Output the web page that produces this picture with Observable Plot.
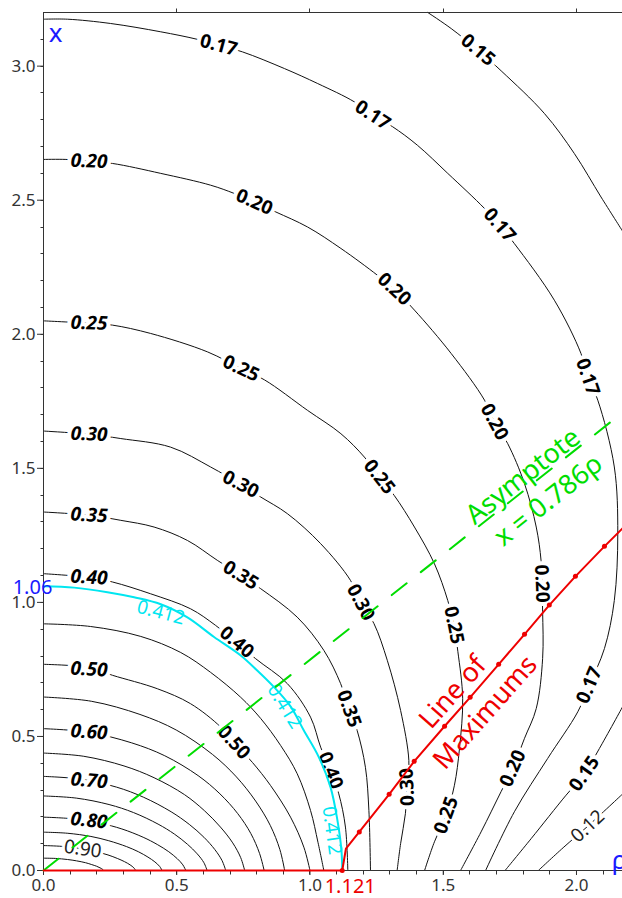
<!DOCTYPE html>
<html>
<head>
<meta charset="utf-8">
<script src="https://cdn.jsdelivr.net/npm/d3@7"></script>
<script src="https://cdn.jsdelivr.net/npm/@observablehq/plot@0.6"></script>
<style>
  html, body { margin: 0; padding: 0; background: #fff; overflow: hidden; }
</style>
</head>
<body>
<div id="chart"></div>
<script>
// Extent of the (ρ, x) plane shown
const rhoMax = 2.1727;
const xMax = 3.2;
const rhoTicks = [0, 0.5, 1.0, 1.5, 2.0];
const xTicks = [0, 0.5, 1.0, 1.5, 2.0, 2.5, 3.0];

// Level curves, each as [ρ, x] points from the x axis round to the ρ axis
const contour095 = [[0,0.046],[0.045,0.045],[0.09,0.041],[0.124,0.036],[0.158,0.029],[0.181,0.022],[0.199,0.016],[0.212,0.010],[0.221,0.005],[0.226,0]];
const contour090 = [[0,0.093],[0.069,0.09],[0.138,0.082],[0.19,0.072],[0.242,0.058],[0.277,0.045],[0.304,0.033],[0.325,0.021],[0.339,0.01],[0.346,0]];
const contour085 = [[0,0.143],[0.089,0.139],[0.178,0.127],[0.245,0.111],[0.312,0.089],[0.356,0.07],[0.392,0.05],[0.418,0.032],[0.436,0.015],[0.445,0]];
const contour080 = [[0,0.199],[0.107,0.193],[0.214,0.176],[0.294,0.155],[0.374,0.124],[0.427,0.097],[0.47,0.07],[0.502,0.044],[0.523,0.021],[0.534,0]];
const contour075 = [[0,0.278],[0.123,0.27],[0.246,0.246],[0.338,0.216],[0.43,0.173],[0.491,0.136],[0.54,0.098],[0.577,0.062],[0.602,0.029],[0.614,0]];
const contour070 = [[0,0.351],[0.137,0.341],[0.274,0.311],[0.376,0.273],[0.479,0.219],[0.547,0.172],[0.602,0.124],[0.643,0.078],[0.67,0.037],[0.684,0]];
const contour065 = [[0,0.438],[0.151,0.426],[0.302,0.39],[0.415,0.346],[0.529,0.283],[0.604,0.223],[0.664,0.162],[0.71,0.103],[0.74,0.048],[0.755,0]];
const contour060 = [[0,0.529],[0.166,0.516],[0.331,0.476],[0.455,0.428],[0.58,0.354],[0.662,0.286],[0.729,0.212],[0.778,0.138],[0.811,0.063],[0.828,0]];
const contour055 = [[0,0.647],[0.181,0.631],[0.362,0.582],[0.498,0.524],[0.634,0.433],[0.724,0.349],[0.796,0.259],[0.851,0.168],[0.887,0.078],[0.905,0]];
const contour050 = [[0,0.769],[0.17,0.757],[0.259,0.728],[0.427,0.678],[0.552,0.622],[0.665,0.535],[0.714,0.478],[0.784,0.403],[0.852,0.317],[0.927,0.199],[0.977,0.087],[1.0,0]];
const contour045 = [[0,0.92],[0.177,0.91],[0.365,0.873],[0.515,0.813],[0.627,0.739],[0.74,0.646],[0.815,0.567],[0.89,0.466],[0.952,0.361],[1.002,0.224],[1.03,0.105],[1.052,0]];
const contour040 = [[0,1.107],[0.171,1.093],[0.259,1.076],[0.402,1.032],[0.552,0.976],[0.646,0.914],[0.725,0.851],[0.796,0.79],[0.915,0.697],[1.002,0.572],[1.04,0.46],[1.077,0.373],[1.108,0.286],[1.133,0.162],[1.142,0]];
const contour035 = [[0,1.337],[0.171,1.325],[0.29,1.306],[0.415,1.281],[0.54,1.231],[0.652,1.157],[0.74,1.101],[0.815,1.051],[0.952,0.945],[1.052,0.821],[1.115,0.697],[1.146,0.603],[1.177,0.522],[1.208,0.385],[1.221,0.224],[1.227,0]];
const contour030 = [[0,1.639],[0.171,1.627],[0.29,1.611],[0.477,1.579],[0.627,1.505],[0.74,1.44],[0.815,1.393],[0.915,1.331],[1.04,1.219],[1.152,1.082],[1.19,1.0],[1.24,0.921],[1.29,0.784],[1.34,0.597],[1.371,0.41],[1.365,0.311],[1.358,0.212],[1.34,0.1],[1.327,0]];
const contour025 = [[0,2.05],[0.171,2.041],[0.259,2.034],[0.402,2.003],[0.616,1.934],[0.741,1.872],[0.829,1.83],[0.991,1.716],[1.116,1.629],[1.204,1.542],[1.26,1.468],[1.316,1.399],[1.392,1.281],[1.467,1.144],[1.517,1.007],[1.54,0.915],[1.555,0.816],[1.573,0.642],[1.561,0.455],[1.542,0.318],[1.511,0.206],[1.467,0.107],[1.43,0]];
const contour020 = [[0,2.652],[0.084,2.652],[0.171,2.645],[0.259,2.637],[0.44,2.6],[0.627,2.556],[0.716,2.525],[0.791,2.493],[0.872,2.456],[0.991,2.4],[1.116,2.32],[1.253,2.22],[1.316,2.168],[1.392,2.09],[1.53,1.928],[1.655,1.754],[1.692,1.673],[1.742,1.592],[1.805,1.443],[1.849,1.281],[1.867,1.157],[1.87,1.07],[1.873,0.965],[1.873,0.791],[1.849,0.604],[1.805,0.493],[1.761,0.381],[1.717,0.294],[1.642,0.144],[1.565,0]];
const contour017 = [[0,3.175],[0.09,3.175],[0.252,3.159],[0.44,3.128],[0.577,3.1],[0.657,3.078],[0.747,3.053],[0.904,2.991],[1.029,2.935],[1.166,2.867],[1.235,2.817],[1.31,2.774],[1.403,2.705],[1.517,2.6],[1.655,2.469],[1.711,2.407],[1.767,2.338],[1.917,2.127],[2.017,1.928],[2.042,1.841],[2.08,1.754],[2.142,1.505],[2.155,1.256],[2.142,1.007],[2.105,0.828],[2.048,0.691],[2.005,0.592],[1.892,0.418],[1.767,0.219],[1.659,0]];
const contour015Upper = [[1.442,3.2],[1.53,3.14],[1.63,3.06],[1.72,2.98],[1.88,2.823],[1.992,2.674],[2.092,2.512],[2.1727,2.385]];
const contour015Lower = [[2.1727,0.61],[2.086,0.455],[2.03,0.361],[1.961,0.281],[1.83,0.119],[1.732,0]];
const contour012 = [[1.857,0],[1.95,0.085],[2.042,0.165],[2.1727,0.285]];

// The separating level 0.412, which meets the x axis at 1.06 and the ρ axis at 1.121
const criticalLevel = 0.412;
const criticalOnX = 1.06;
const criticalOnRho = 1.121;
const contour0412 = [[0,criticalOnX],[0.115,1.055],[0.24,1.038],[0.34,1.019],[0.44,0.993],[0.54,0.944],[0.64,0.871],[0.74,0.802],[0.802,0.746],[0.865,0.684],[0.927,0.612],[0.977,0.522],[1.033,0.423],[1.077,0.311],[1.103,0.187],[1.118,0.075],[criticalOnRho,0]];

// Line of maximums: along the ρ axis up to 1.121, then off into the plane
const maximaLine = [[0,0],[criticalOnRho,0],[1.135,0.082],[1.185,0.144],[1.297,0.284],[1.391,0.407],[1.505,0.538],[1.601,0.646],[1.708,0.769],[1.805,0.881],[1.898,0.99],[1.996,1.097],[2.105,1.209],[2.1727,1.276]];
const maximaDots = [[criticalOnRho,0],[1.185,0.144],[1.297,0.284],[1.391,0.407],[1.505,0.538],[1.601,0.646],[1.708,0.769],[1.805,0.881],[1.898,0.99],[1.996,1.097],[2.105,1.209]];

// Asymptote x = 0.786 ρ
const asymptoteSlope = 0.786;

const blackContours = [
  [0.95, contour095], [0.90, contour090], [0.85, contour085], [0.80, contour080],
  [0.75, contour075], [0.70, contour070], [0.65, contour065], [0.60, contour060],
  [0.55, contour055], [0.50, contour050], [0.45, contour045], [0.40, contour040],
  [0.35, contour035], [0.30, contour030], [0.25, contour025], [0.20, contour020],
  [0.17, contour017], [0.15, contour015Upper], [0.15, contour015Lower], [0.12, contour012]
];

// Contour labels: text, ρ, x, angle
const axisSideLabels = [
  ["0.20",0.171,2.645,2],["0.25",0.171,2.041,2],["0.30",0.171,1.627,2],["0.35",0.171,1.325,3],
  ["0.40",0.171,1.093,3],["0.50",0.171,0.75,3],["0.60",0.171,0.516,4],["0.70",0.171,0.335,5],["0.80",0.171,0.186,6]
];
const curveLabels = [
  ["0.17",0.657,3.078,15],["0.17",1.235,2.817,33],["0.17",1.711,2.407,49],["0.17",2.042,1.841,71],["0.17",2.048,0.691,-67],
  ["0.15",1.63,3.06,40],["0.15",2.03,0.361,-55],
  ["0.20",0.791,2.493,24],["0.20",1.316,2.168,43],["0.20",1.692,1.673,62],["0.20",1.87,1.07,88],["0.20",1.761,0.381,-66],
  ["0.25",0.741,1.872,25],["0.25",1.26,1.468,52],["0.25",1.54,0.915,79],["0.25",1.511,0.206,-70],
  ["0.30",0.74,1.44,28],["0.30",1.19,1.0,62],["0.30",1.365,0.311,-92],
  ["0.35",0.74,1.101,32],["0.35",1.146,0.603,70],
  ["0.40",0.725,0.851,40],["0.40",1.077,0.373,69],
  ["0.50",0.714,0.478,48]
];
const lightLabels = [["0.90",0.147,0.08,8],["0.12",2.042,0.165,-43]];
const criticalLabels = [[0.44,0.962,15],[0.905,0.612,58],[1.082,0.149,82]];

const contourRows = blackContours.flatMap(([level, pts], id) =>
  pts.map(([rho, x]) => ({id, level, rho, x})));
const criticalRows = contour0412.map(([rho, x]) => ({rho, x}));
const maximaRows = maximaLine.map(([rho, x]) => ({rho, x}));
const dotRows = maximaDots.map(([rho, x]) => ({rho, x}));
const asymptoteRows = [0, rhoMax].map(rho => ({rho, x: asymptoteSlope * rho}));

const rhoMinor = d3.range(1, 22).map(i => i / 10);
const xMinor = d3.range(1, 32).map(i => i / 10);

const sans = "'Noto Sans', 'Open Sans', sans-serif";
const red = "#ee0000", cyan = "#00e6f0", green = "#00dd00", blue = "#1a1aff";

// Minor ticks on the two axes and outward ticks on the top border
function borderTicks(index, {x, y}) {
  const g = d3.create("svg:g")
    .attr("stroke", "#333")
    .attr("transform", "translate(0.5,0.5)");
  const left = Math.round(x(0)), bottom = Math.round(y(0)), top = Math.round(y(xMax));
  for (const v of xMinor) {
    const py = Math.round(y(v));
    g.append("line").attr("x1", left - 3).attr("x2", left).attr("y1", py).attr("y2", py);
  }
  for (const v of rhoMinor) {
    const px = Math.round(x(v));
    g.append("line").attr("x1", px).attr("x2", px).attr("y1", bottom).attr("y2", bottom + 4);
  }
  for (const v of rhoTicks) {
    if (v === 0) continue;
    const px = Math.round(x(v));
    g.append("line").attr("x1", px).attr("x2", px).attr("y1", top).attr("y2", top - 4);
  }
  return g.node();
}

const pxPerRho = (622 - 43) / rhoMax;
const pxPerX = (898 - 12 - 28) / xMax;
const asymptoteAngle = -Math.atan(asymptoteSlope * pxPerX / pxPerRho) * 180 / Math.PI;
const maximaAngle = -48.5;

const chart = Plot.plot({
  width: 622,
  height: 898,
  marginTop: 12,
  marginRight: 0,
  marginBottom: 28,
  marginLeft: 43,
  style: {fontFamily: sans, fontSize: "17px", color: "#333", background: "#fff"},
  x: {domain: [0, rhoMax], ticks: rhoTicks, tickFormat: d3.format(".1f"), tickSize: 5, tickPadding: 3, label: null},
  y: {domain: [0, xMax], ticks: xTicks, tickFormat: d3.format(".1f"), tickSize: 6, tickPadding: 2, label: null},
  marks: [
    Plot.line(contourRows, {x: "rho", y: "x", z: "id", stroke: "#111", strokeWidth: 1, curve: "catmull-rom"}),
    Plot.text(axisSideLabels, {x: d => d[1], y: d => d[2], text: d => d[0], rotate: d => d[3],
      fontFamily: sans, fontSize: 19, fontWeight: "bold", fontStyle: "italic", fill: "#000", stroke: "#fff", strokeWidth: 8}),
    Plot.text(curveLabels, {x: d => d[1], y: d => d[2], text: d => d[0], rotate: d => d[3],
      fontFamily: sans, fontSize: 19, fontWeight: "bold", fill: "#000", stroke: "#fff", strokeWidth: 8}),
    Plot.text(lightLabels, {x: d => d[1], y: d => d[2], text: d => d[0], rotate: d => d[3],
      fontFamily: sans, fontSize: 19, fill: "#222", stroke: "#fff", strokeWidth: 6}),
    Plot.line(criticalRows, {x: "rho", y: "x", stroke: cyan, strokeWidth: 2, curve: "catmull-rom"}),
    Plot.text(criticalLabels, {x: d => d[0], y: d => d[1], text: () => String(criticalLevel), rotate: d => d[2],
      fontFamily: sans, fontSize: 19, fill: cyan}),
    Plot.ruleX([0], {stroke: "#333"}),
    Plot.ruleY([0], {stroke: "#333"}),
    Plot.ruleY([xMax], {stroke: "#333"}),
    borderTicks,
    Plot.line(asymptoteRows, {x: "rho", y: "x", stroke: green, strokeWidth: 2, strokeDasharray: "19,18"}),
    Plot.text(["Asymptote"], {x: 1.80, y: 1.47, rotate: asymptoteAngle, fontFamily: sans, fontSize: 27, fill: green}),
    Plot.text([`x = ${asymptoteSlope}ρ`], {x: 1.895, y: 1.38, rotate: asymptoteAngle, fontFamily: sans, fontSize: 27, fill: green}),
    Plot.line(maximaRows, {x: "rho", y: "x", stroke: red, strokeWidth: 2}),
    Plot.dot(dotRows, {x: "rho", y: "x", r: 2.5, fill: red}),
    Plot.text(["Line of"], {x: 1.536, y: 0.664, rotate: maximaAngle, fontFamily: sans, fontSize: 27, fill: red}),
    Plot.text(["Maximums"], {x: 1.658, y: 0.589, rotate: maximaAngle, fontFamily: sans, fontSize: 27, fill: red}),
    Plot.text([criticalOnRho.toFixed(3)], {x: criticalOnRho, y: 0, dx: 8, dy: 16, fontFamily: sans, fontSize: 20, fill: red}),
    Plot.text([criticalOnX.toFixed(2)], {x: 0, y: criticalOnX, dx: -11, dy: 1, fontFamily: sans, fontSize: 20, fill: blue}),
    Plot.text(["x"], {frameAnchor: "top-left", textAnchor: "middle", lineAnchor: "middle", dx: 12, dy: 21, fontFamily: sans, fontSize: 26, fill: blue}),
    Plot.text(["ρ"], {frameAnchor: "bottom-right", textAnchor: "middle", lineAnchor: "middle", dx: -3, dy: -10, fontFamily: sans, fontSize: 26, fill: blue})
  ]
});

document.getElementById("chart").appendChild(chart);
</script>
</body>
</html>
